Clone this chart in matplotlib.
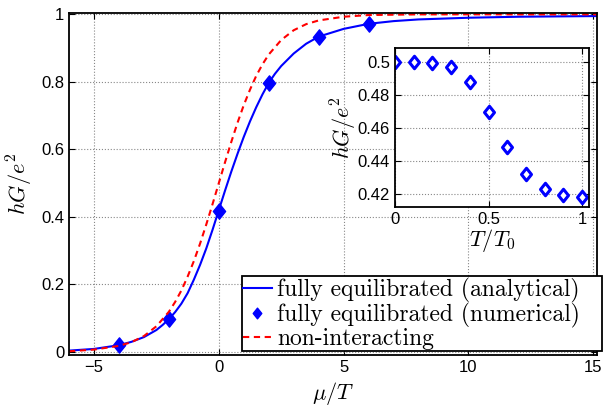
import matplotlib
matplotlib.use('Agg')
import matplotlib.pyplot as plt
from matplotlib.path import Path

plt.rcParams['font.family'] = ['Liberation Sans', 'DejaVu Sans']
plt.rcParams['mathtext.fontset'] = 'cm'

# main panel: analytical curve
mu_an = [-6, -5, -4, -3.5, -3, -2.5, -2.25, -2, -1.75, -1.5, -1.25, -1, -0.75,
         -0.5, -0.25, 0, 0.25, 0.5, 0.75, 1, 1.25, 1.5, 1.75, 2, 2.25, 2.5, 3,
         3.5, 4, 5, 6, 7, 8, 10, 12, 15.2]
g_an = [0.004, 0.009, 0.02, 0.03, 0.044, 0.065, 0.08, 0.097, 0.118, 0.143,
        0.174, 0.214, 0.258, 0.307, 0.362, 0.42, 0.478, 0.534, 0.587, 0.637,
        0.683, 0.725, 0.763, 0.797, 0.824, 0.847, 0.884, 0.913, 0.934, 0.957,
        0.972, 0.98, 0.985, 0.99, 0.993, 0.995]

# numerical points
mu_num = [-4, -2, 0, 2, 4, 6]
g_num = [0.02, 0.097, 0.419, 0.796, 0.933, 0.972]

# non-interacting curve
mu_ni = [-6, -5, -4, -3.5, -3, -2.5, -2, -1.75, -1.5, -1.25, -1, -0.75, -0.5,
         -0.25, 0, 0.25, 0.5, 0.75, 1, 1.25, 1.5, 1.75, 2, 2.5, 3, 3.5, 4, 5,
         6, 8, 10, 15.2]
g_ni = [0.002, 0.007, 0.018, 0.029, 0.047, 0.076, 0.119, 0.148, 0.182, 0.223,
        0.269, 0.321, 0.378, 0.438, 0.5, 0.562, 0.622, 0.679, 0.731, 0.777,
        0.818, 0.852, 0.881, 0.924, 0.953, 0.971, 0.982, 0.993, 0.998, 1.0,
        1.0, 1.0]

# inset: conductance vs T/T0
t_ratio = [0, 0.1, 0.2, 0.3, 0.4, 0.5, 0.6, 0.7, 0.8, 0.9, 1.0]
g_t = [0.5, 0.5, 0.4998, 0.4973, 0.4879, 0.47, 0.4489, 0.4325, 0.4235,
       0.4197, 0.4186]

# matlab-like diamond, a bit taller than wide
diamond = Path([(0, 1), (0.8, 0), (0, -1), (-0.8, 0), (0, 1)],
               [Path.MOVETO, Path.LINETO, Path.LINETO, Path.LINETO, Path.CLOSEPOLY])

fig = plt.figure(figsize=(6.07, 4.08), dpi=100)
ax = fig.add_axes([0.1137, 0.1299, 0.8698, 0.8382])

ax.plot(mu_an, g_an, '-', color='blue', lw=1.5,
        label='fully equilibrated (analytical)')
ax.plot(mu_num, g_num, marker=diamond, color='blue', ms=11, ls='none',
        label='fully equilibrated (numerical)')
ax.plot(mu_ni, g_ni, '--', color='red', lw=1.5, dashes=(3, 2.2),
        label='non-interacting')

ax.set_xlim(-6, 15.15)
ax.set_ylim(-0.009, 1.004)
ax.set_xticks([-5, 0, 5, 10, 15])
ax.set_yticks([0, 0.2, 0.4, 0.6, 0.8, 1])
ax.set_yticklabels(['0', '0.2', '0.4', '0.6', '0.8', '1'])
ax.tick_params(direction='in', top=True, right=True, labelsize=12, length=4)
ax.grid(True, ls=':', color='#888888', lw=0.8)
for s in ax.spines.values():
    s.set_linewidth(1.3)
ax.set_xlabel(r'$\mu/T$', fontsize=16, labelpad=4)
ax.set_ylabel(r'$hG/e^2$', fontsize=16, labelpad=4)

# legend box spans x 242..602 px in the reference, bottom at y 351
leg = ax.legend(loc='lower left', mode='expand',
                bbox_to_anchor=(242 / 607, 57 / 408, 360 / 607, 69 / 408),
                bbox_transform=fig.transFigure, borderaxespad=0,
                fancybox=False, framealpha=1, edgecolor='black',
                prop={'family': 'cmr10', 'size': 17}, handlelength=1.2,
                handletextpad=0.25, borderpad=0.05, labelspacing=0.0,
                markerscale=0.7)
leg.get_frame().set_linewidth(1.3)

ins = fig.add_axes([0.6507, 0.4926, 0.3196, 0.3898])
ins.plot(t_ratio, g_t, marker=diamond, ls='none', ms=9, mfc='white',
         mec='blue', mew=2.2)
ins.set_xlim(0, 1.037)
ins.set_ylim(0.4123, 0.5087)
ins.set_xticks([0, 0.5, 1])
ins.set_xticklabels(['0', '0.5', '1'])
ins.set_yticks([0.42, 0.44, 0.46, 0.48, 0.5])
ins.set_yticklabels(['0.42', '0.44', '0.46', '0.48', '0.5'])
ins.tick_params(direction='in', top=True, right=True, labelsize=12, length=4)
ins.grid(True, ls=':', color='#888888', lw=0.8)
for s in ins.spines.values():
    s.set_linewidth(1.3)
ins.set_xlabel(r'$T/T_0$', fontsize=16, labelpad=0)
ins.set_ylabel(r'$hG/e^2$', fontsize=16, labelpad=-1)

fig.savefig('out.png', dpi=100)
